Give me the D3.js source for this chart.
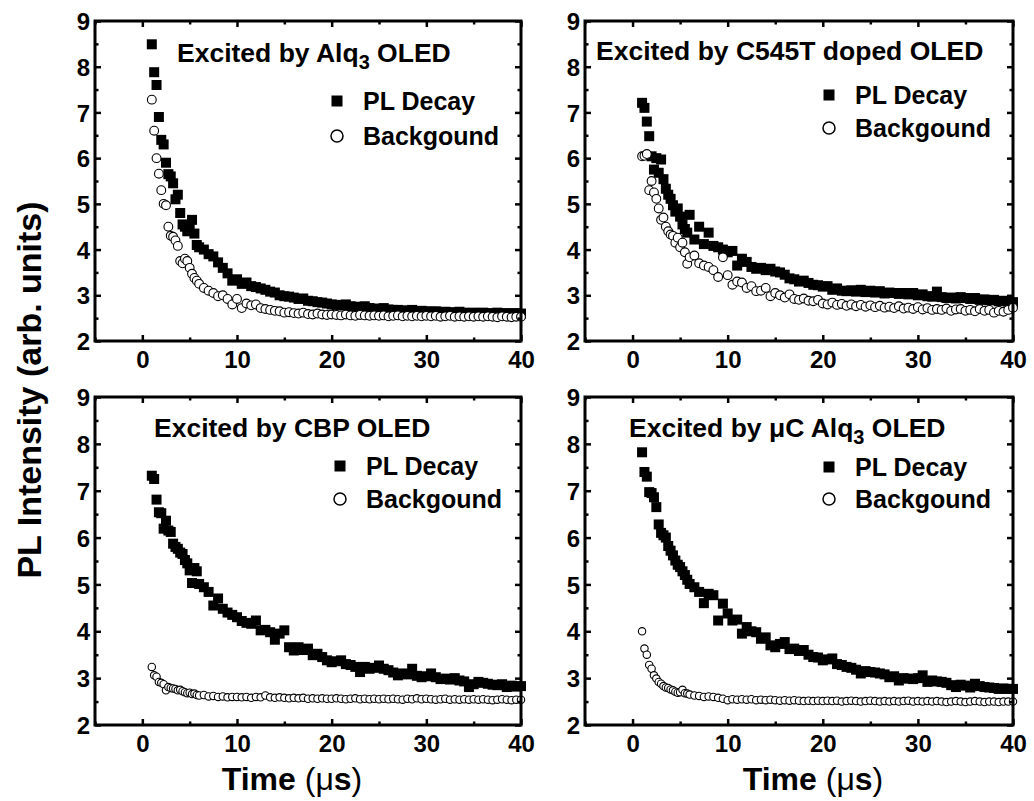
<!DOCTYPE html>
<html>
<head>
<meta charset="utf-8">
<script src="https://cdn.jsdelivr.net/npm/d3@7"></script>
<style>
  body { margin: 0; background: #fff; }
  svg text { font-family: "Liberation Sans", Arial, sans-serif; font-weight: bold; fill: #000; }
</style>
</head>
<body>
<div id="chart"></div>
<script>
// time axis (µs), shared by every series
var TIME = [1.0,1.25,1.5,1.75,2.0,2.25,2.5,2.75,3.0,3.25,3.5,3.75,4.0,4.25,4.5,4.75,5.0,5.25,5.5,5.75,6.0,
  6.5,7,7.5,8,8.5,9,9.5,10,
  10.5,11,11.5,12,12.5,13,13.5,14,14.5,15,
  15.5,16,16.5,17,17.5,18,18.5,19,19.5,20,
  20.5,21,21.5,22,22.5,23,23.5,24,24.5,25,
  25.5,26,26.5,27,27.5,28,28.5,29,29.5,30,
  30.5,31,31.5,32,32.5,33,33.5,34,34.5,35,
  35.5,36,36.5,37,37.5,38,38.5,39,39.5,40];

var ALQ_DECAY = [8.49,7.88,7.6,6.9,6.4,6.3,5.9,5.65,5.6,5.45,5.1,5.2,4.8,4.55,4.5,4.4,4.45,4.65,4.35,4.1,4.05,
  4.0,3.9,3.85,3.72,3.6,3.48,3.32,3.35,
  3.25,3.28,3.2,3.18,3.15,3.12,3.08,3.06,3.0,2.98,
  2.97,2.95,2.92,2.93,2.88,2.87,2.85,2.84,2.82,2.8,
  2.79,2.78,2.8,2.76,2.75,2.74,2.76,2.72,2.71,2.7,
  2.72,2.69,2.68,2.68,2.67,2.66,2.68,2.65,2.66,2.65,
  2.64,2.65,2.63,2.64,2.63,2.62,2.64,2.62,2.61,2.62,
  2.61,2.62,2.6,2.61,2.62,2.6,2.61,2.6,2.61,2.6];
var ALQ_BG = [7.28,6.6,6.0,5.66,5.3,5.0,4.97,4.5,4.3,4.28,4.2,4.08,3.75,3.7,3.8,3.75,3.6,3.47,3.38,3.32,3.25,
  3.16,3.1,3.05,2.98,3.0,2.92,2.8,2.92,
  2.72,2.82,2.78,2.8,2.72,2.7,2.68,2.66,2.65,2.62,
  2.63,2.61,2.6,2.62,2.59,2.58,2.6,2.58,2.57,2.58,
  2.57,2.56,2.58,2.56,2.55,2.57,2.56,2.55,2.56,2.55,
  2.56,2.54,2.55,2.56,2.54,2.55,2.54,2.55,2.54,2.55,
  2.54,2.55,2.53,2.54,2.55,2.53,2.54,2.53,2.54,2.53,
  2.54,2.53,2.54,2.53,2.52,2.54,2.53,2.52,2.53,2.53];

var C545_DECAY = [7.21,7.1,6.8,6.48,6.04,5.75,6.0,5.68,5.97,5.54,5.33,5.2,5.11,4.97,4.83,4.9,4.72,4.55,4.45,4.37,4.76,
  4.22,4.5,4.12,4.37,4.08,4.05,4.0,3.94,
  3.97,3.65,3.8,3.73,3.62,3.58,3.6,3.55,3.58,3.52,
  3.5,3.45,3.37,3.35,3.3,3.32,3.27,3.23,3.22,3.19,
  3.2,3.12,3.15,3.1,3.09,3.11,3.08,3.12,3.07,3.1,
  3.06,3.09,3.04,3.06,3.05,3.03,3.05,3.02,3.05,3.0,
  3.02,2.98,2.97,3.08,2.96,2.94,2.95,2.93,2.96,2.94,
  2.92,2.94,2.9,2.91,2.89,2.9,2.87,2.88,2.86,2.85];
var C545_BG = [6.04,6.05,6.09,5.3,5.5,5.25,5.11,4.9,4.65,4.7,4.5,4.4,4.33,4.3,4.15,4.26,4.05,4.15,3.94,3.69,3.83,
  3.87,3.7,3.65,3.62,3.55,3.4,3.83,3.44,
  3.23,3.3,3.28,3.16,3.2,3.09,3.1,3.16,2.98,3.05,
  3.0,2.95,3.02,2.92,2.9,2.93,2.88,2.87,2.9,2.82,
  2.8,2.84,2.79,2.81,2.77,2.8,2.76,2.79,2.75,2.78,
  2.74,2.77,2.73,2.75,2.72,2.76,2.71,2.73,2.7,2.74,
  2.69,2.72,2.68,2.7,2.68,2.71,2.66,2.69,2.7,2.66,
  2.68,2.65,2.7,2.66,2.68,2.62,2.66,2.64,2.68,2.73];

var CBP_DECAY = [7.32,7.25,6.81,6.54,6.52,6.19,6.36,6.15,6.12,5.87,5.8,5.76,5.68,5.65,5.52,5.45,5.3,5.03,5.35,5.28,5.01,
  4.94,4.84,4.55,4.7,4.48,4.4,4.35,4.3,
  4.22,4.18,4.16,4.23,4.02,4.03,3.98,3.82,3.95,4.02,
  3.66,3.59,3.66,3.6,3.63,3.49,3.52,3.45,3.38,3.34,
  3.36,3.38,3.3,3.28,3.24,3.13,3.24,3.2,3.22,3.27,
  3.2,3.17,3.12,3.06,3.1,3.08,3.2,3.05,3.02,3.04,
  3.1,3.02,2.98,2.99,2.97,3.0,2.95,2.93,2.81,2.87,
  2.92,2.9,2.88,2.86,2.85,2.87,2.81,2.84,2.82,2.83];
var CBP_BG = [3.24,3.06,3.03,2.92,2.9,2.87,2.74,2.81,2.79,2.78,2.77,2.74,2.75,2.72,2.7,2.68,2.69,2.66,2.67,2.64,2.63,
  2.64,2.61,2.62,2.6,2.61,2.59,2.6,2.6,
  2.59,2.6,2.58,2.6,2.59,2.63,2.59,2.58,2.59,2.58,
  2.57,2.58,2.57,2.58,2.56,2.57,2.56,2.57,2.56,2.56,
  2.57,2.56,2.55,2.56,2.57,2.55,2.56,2.55,2.56,2.55,
  2.56,2.55,2.56,2.55,2.54,2.56,2.55,2.57,2.55,2.56,
  2.55,2.54,2.55,2.56,2.54,2.55,2.54,2.55,2.54,2.55,
  2.54,2.55,2.54,2.53,2.54,2.55,2.54,2.53,2.54,2.54];

var UC_DECAY = [7.82,7.4,7.3,6.97,6.95,6.86,6.65,6.28,6.1,6.05,6.0,5.82,5.72,5.62,5.51,5.42,5.37,5.28,5.2,5.1,5.01,
  4.94,4.84,4.6,4.8,4.77,4.23,4.59,4.38,
  4.23,4.25,3.95,4.09,4.0,3.98,3.84,3.87,3.7,3.66,
  3.73,3.77,3.62,3.63,3.58,3.6,3.5,3.45,3.44,3.38,
  3.4,3.42,3.3,3.28,3.24,3.22,3.18,3.1,3.15,3.13,
  3.12,3.1,3.08,3.02,3.04,2.95,3.0,2.99,2.98,3.0,
  3.06,2.92,2.95,2.93,2.92,2.9,2.85,2.81,2.86,2.84,
  2.8,2.88,2.83,2.81,2.8,2.79,2.77,2.78,2.77,2.77];
var UC_BG = [4.0,3.63,3.5,3.28,3.2,3.06,2.99,2.92,2.88,2.83,2.8,2.79,2.76,2.74,2.71,2.69,2.7,2.75,2.68,2.67,2.65,
  2.63,2.62,2.6,2.61,2.6,2.58,2.56,2.53,
  2.55,2.54,2.55,2.54,2.55,2.53,2.54,2.53,2.54,2.53,
  2.52,2.53,2.52,2.53,2.52,2.51,2.52,2.51,2.52,2.51,
  2.52,2.51,2.52,2.5,2.51,2.52,2.51,2.5,2.51,2.52,
  2.51,2.5,2.51,2.5,2.51,2.5,2.51,2.52,2.5,2.51,
  2.5,2.51,2.5,2.51,2.5,2.49,2.5,2.51,2.5,2.49,
  2.5,2.51,2.5,2.49,2.5,2.5,2.49,2.5,2.5,2.5];

var X_DOMAIN = [-5, 40];
var Y_DOMAIN = [2, 9];
var X_MAJOR = [0, 10, 20, 30, 40];
var X_MINOR = [-5, 5, 15, 25, 35];
var Y_MAJOR = [2, 3, 4, 5, 6, 7, 8, 9];
var Y_MINOR = [2.5, 3.5, 4.5, 5.5, 6.5, 7.5, 8.5];
var LEGEND = ["PL Decay", "Backgound"];

// titles: [text, isSubscript]
var TITLES = [
  [["Excited by Alq", false], ["3", true], [" OLED", false]],
  [["Excited by C545T doped OLED", false]],
  [["Excited by CBP OLED", false]],
  [["Excited by \u03BCC Alq", false], ["3", true], [" OLED", false]]
];

var W = 1034, H = 801;

// layout of each panel (pixels)
var PANELS = [
  {title: TITLES[0], decay: ALQ_DECAY, bg: ALQ_BG, x0: 95, x1: 521, yT: 21, yB: 341,
   tx: 177, ty: 62, lx: 337, ly: [101, 136], r: 4.4},
  {title: TITLES[1], decay: C545_DECAY, bg: C545_BG, x0: 585, x1: 1013, yT: 21, yB: 341,
   tx: 596, ty: 60, lx: 829, ly: [95, 128], r: 4.4},
  {title: TITLES[2], decay: CBP_DECAY, bg: CBP_BG, x0: 95, x1: 521, yT: 397, yB: 725,
   tx: 154, ty: 437, lx: 340, ly: [466, 499], r: 3.7},
  {title: TITLES[3], decay: UC_DECAY, bg: UC_BG, x0: 585, x1: 1013, yT: 397, yB: 725,
   tx: 629, ty: 437, lx: 829, ly: [467, 499], r: 3.7}
];

var svg = d3.select("#chart").append("svg")
  .attr("width", W).attr("height", H)
  .attr("viewBox", [0, 0, W, H].join(" "));

PANELS.forEach(function(p) {
  var x = d3.scaleLinear().domain(X_DOMAIN).range([p.x0, p.x1]);
  var y = d3.scaleLinear().domain(Y_DOMAIN).range([p.yB, p.yT]);
  var g = svg.append("g");

  // markers: squares first, circles on top
  var sq = 10;
  g.append("g").selectAll("rect")
    .data(TIME.map(function(t, i) { return [t, p.decay[i]]; }))
    .enter().append("rect")
    .attr("x", function(d) { return x(d[0]) - sq / 2; })
    .attr("y", function(d) { return y(d[1]) - sq / 2; })
    .attr("width", sq).attr("height", sq)
    .attr("fill", "#000");

  g.append("g").selectAll("circle")
    .data(TIME.map(function(t, i) { return [t, p.bg[i]]; }))
    .enter().append("circle")
    .attr("cx", function(d) { return x(d[0]); })
    .attr("cy", function(d) { return y(d[1]); })
    .attr("r", p.r)
    .attr("fill", "#fff")
    .attr("stroke", "#000")
    .attr("stroke-width", 1.1);

  // axes, ticks pointing inward
  function axis(gen, scale, vals, size, tx, ty, labels) {
    var a = gen(scale).tickValues(vals).tickSize(-size)
      .tickFormat(labels ? d3.format("d") : "");
    var ag = g.append("g").attr("transform", "translate(" + tx + "," + ty + ")").call(a);
    ag.select(".domain").remove();
    ag.selectAll(".tick line").attr("stroke", "#000").attr("stroke-width", 2.5);
    ag.attr("font-size", 24);
    ag.selectAll("text").attr("font-size", 24).attr("fill", "#000")
      .attr("font-family", "'Liberation Sans', Arial, sans-serif");
    return ag;
  }
  axis(d3.axisBottom, x, X_MAJOR, 6, 0, p.yB, true).selectAll(".tick text").attr("dy", "0.98em");
  axis(d3.axisBottom, x, X_MINOR, 3.5, 0, p.yB, false);
  axis(d3.axisTop, x, X_MAJOR, 6, 0, p.yT, false);
  axis(d3.axisTop, x, X_MINOR, 3.5, 0, p.yT, false);
  axis(d3.axisLeft, y, Y_MAJOR, 6, p.x0, 0, true).selectAll(".tick text").attr("x", -5).attr("dy", "0.36em");
  axis(d3.axisLeft, y, Y_MINOR, 3.5, p.x0, 0, false);
  axis(d3.axisRight, y, Y_MAJOR, 6, p.x1, 0, false);
  axis(d3.axisRight, y, Y_MINOR, 3.5, p.x1, 0, false);

  // frame
  g.append("rect")
    .attr("x", p.x0).attr("y", p.yT)
    .attr("width", p.x1 - p.x0).attr("height", p.yB - p.yT)
    .attr("fill", "none").attr("stroke", "#000").attr("stroke-width", 3);

  // title
  var t = g.append("text").attr("x", p.tx).attr("y", p.ty).attr("font-size", 26.5);
  p.title.forEach(function(part, i) {
    var ts = t.append("tspan").text(part[0]);
    if (part[1]) ts.attr("dy", 7).attr("font-size", 20);
    else if (i > 0) ts.attr("dy", -7);
  });

  // legend
  g.append("rect")
    .attr("x", p.lx - 5.5).attr("y", p.ly[0] - 5.5)
    .attr("width", 11).attr("height", 11).attr("fill", "#000");
  g.append("circle")
    .attr("cx", p.lx).attr("cy", p.ly[1]).attr("r", 6)
    .attr("fill", "#fff").attr("stroke", "#000").attr("stroke-width", 1.5);
  LEGEND.forEach(function(s, i) {
    g.append("text").attr("x", p.lx + 26).attr("y", p.ly[i] + 8.5)
      .attr("font-size", 25).text(s);
  });
});

// shared axis titles
svg.append("text")
  .attr("transform", "translate(41,390) rotate(-90)")
  .attr("text-anchor", "middle").attr("font-size", 34)
  .text("PL Intensity (arb. units)");

[292, 813].forEach(function(cx) {
  var t = svg.append("text").attr("x", cx).attr("y", 790)
    .attr("text-anchor", "middle").attr("font-size", 32);
  t.append("tspan").text("Time ");
  t.append("tspan").attr("font-weight", "normal").text("(\u03BC");
  t.append("tspan").text("s");
  t.append("tspan").attr("font-weight", "normal").text(")");
});
</script>
</body>
</html>
